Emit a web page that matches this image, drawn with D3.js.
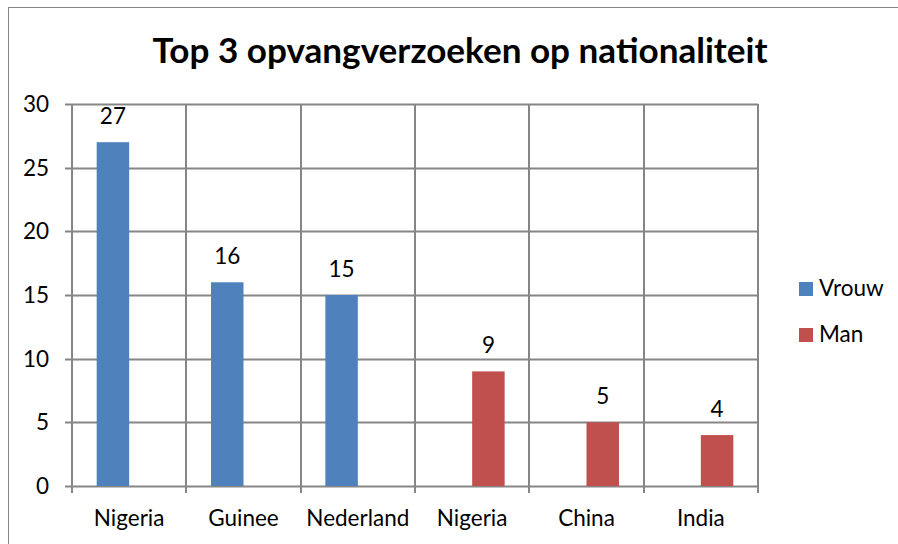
<!DOCTYPE html>
<html lang="nl">
<head>
  <meta charset="UTF-8">
  <title>Top 3 opvangverzoeken op nationaliteit</title>
  <script src="https://cdn.jsdelivr.net/npm/d3@7"></script>
  <style>
    body { margin: 0; background: #fff; }
    text { font-family: Lato, "Open Sans", sans-serif; fill: #000; }
  </style>
</head>
<body>
  <svg width="898" height="544"></svg>
  <script>
    // chart data
    const categories = ['Nigeria', 'Guinee', 'Nederland', 'Nigeria', 'China', 'India'];
    const series = ['Vrouw', 'Man'];
    const vrouw = [27, 16, 15, null, null, null];
    const man = [null, null, null, 9, 5, 4];
    const yTicks = [0, 5, 10, 15, 20, 25, 30];
    const colors = ['#4F81BD', '#C0504D'];

    const svg = d3.select('svg');
    const margin = { left: 72, top: 104, right: 758, bottom: 486 };
    const gridColor = '#868686';
    const fs = 22.5;

    // outer chart border (runs off the picture right and bottom)
    svg.append('rect')
      .attr('x', 8.5).attr('y', 7.5)
      .attr('width', 1000).attr('height', 1000)
      .attr('fill', 'none')
      .attr('stroke', gridColor);

    const idx = d3.range(categories.length);
    const x = d3.scaleBand().domain(idx).range([margin.left, margin.right]);
    const xs = d3.scaleBand().domain(series).range([0, x.bandwidth()])
      .paddingInner(0).paddingOuter(0.76);
    const y = d3.scaleLinear().domain([0, 30]).range([margin.bottom, margin.top]);

    // horizontal grid + y ticks
    svg.append('g')
      .selectAll('line')
      .data(yTicks)
      .enter()
      .append('line')
      .attr('x1', margin.left - 7).attr('x2', margin.right)
      .attr('y1', d => Math.round(y(d)) + 0.5).attr('y2', d => Math.round(y(d)) + 0.5)
      .attr('stroke', gridColor).attr('stroke-width', 2);

    // vertical grid + x ticks
    svg.append('g')
      .selectAll('line')
      .data(d3.range(categories.length + 1))
      .enter()
      .append('line')
      .attr('x1', d => Math.round(margin.left + d * x.step()))
      .attr('x2', d => Math.round(margin.left + d * x.step()))
      .attr('y1', margin.top).attr('y2', margin.bottom + 7)
      .attr('stroke', gridColor).attr('stroke-width', 2);

    svg.append('g')
      .selectAll('text')
      .data(yTicks)
      .enter()
      .append('text')
      .attr('x', 49).attr('y', d => y(d) + 8)
      .attr('text-anchor', 'end')
      .attr('font-size', fs)
      .text(d => d);

    svg.append('g')
      .selectAll('text')
      .data(idx)
      .enter()
      .append('text')
      .attr('x', d => x(d) + x.bandwidth() / 2)
      .attr('y', 526)
      .attr('text-anchor', 'middle')
      .attr('font-size', fs)
      .text(d => categories[d]);

    // bars
    const data = [];
    idx.forEach(i => {
      [vrouw, man].forEach((vals, s) => {
        if (vals[i] != null) data.push({ i, s, v: vals[i] });
      });
    });

    svg.append('g')
      .selectAll('rect')
      .data(data)
      .enter()
      .append('rect')
      .attr('x', d => x(d.i) + xs(series[d.s]))
      .attr('y', d => y(d.v))
      .attr('width', xs.bandwidth())
      .attr('height', d => y(0) - y(d.v))
      .attr('fill', d => colors[d.s]);

    svg.append('g')
      .selectAll('text')
      .data(data)
      .enter()
      .append('text')
      .attr('x', d => x(d.i) + xs(series[d.s]) + xs.bandwidth() / 2)
      .attr('y', d => y(d.v) - 18)
      .attr('text-anchor', 'middle')
      .attr('font-size', fs)
      .text(d => d.v);

    // title, scaled to the reference width
    const title = svg.append('text')
      .attr('x', 460).attr('y', 63)
      .attr('text-anchor', 'middle')
      .attr('font-weight', 'bold')
      .attr('font-size', 32)
      .text('Top 3 opvangverzoeken op nationaliteit');
    const tw = title.node().getComputedTextLength();
    title.attr('font-size', 32 * 615 / tw);

    // legend
    const legend = svg.append('g')
      .selectAll('g')
      .data(series)
      .enter()
      .append('g')
      .attr('transform', (d, i) => `translate(799, ${282 + i * 46})`);
    legend.append('rect')
      .attr('width', 14).attr('height', 14)
      .attr('fill', (d, i) => colors[i]);
    legend.append('text')
      .attr('x', 20).attr('y', 14)
      .attr('font-size', fs)
      .text(d => d);
  </script>
</body>
</html>
